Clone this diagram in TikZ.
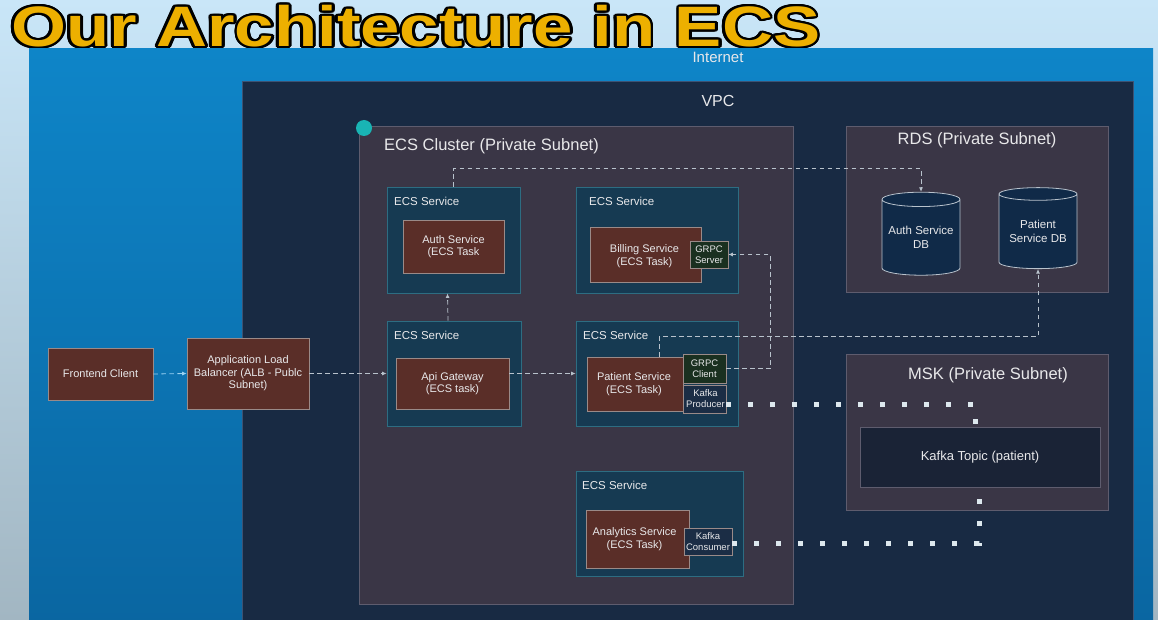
\documentclass[tikz,border=0pt]{standalone}
\usepackage{fontspec}
\setmainfont{Liberation Sans}
\usepackage{graphicx}
\usepackage{contour}
\contourlength{2.3pt}
\contournumber{20}
\usetikzlibrary{fit,shapes.geometric,arrows.meta}
\definecolor{bgtop}{HTML}{C9E6F8}
\definecolor{bgbot}{HTML}{A2B6C2}
\definecolor{nettop}{HTML}{0E85C8}
\definecolor{netbot}{HTML}{0A65A0}
\definecolor{vpcfill}{HTML}{182A43}
\definecolor{vpcline}{HTML}{3D5273}
\definecolor{clfill}{HTML}{3A3646}
\definecolor{clline}{HTML}{5E5C6E}
\definecolor{svcfill}{HTML}{163A52}
\definecolor{svcline}{HTML}{2D6D82}
\definecolor{taskfill}{HTML}{5A2E28}
\definecolor{taskline}{HTML}{9A8A88}
\definecolor{grpcfill}{HTML}{1A3020}
\definecolor{kafkafill}{HTML}{1B2D45}
\definecolor{topicfill}{HTML}{1A2336}
\definecolor{dbfill}{HTML}{102A48}
\definecolor{txt}{HTML}{E8E8EA}
\definecolor{dash}{HTML}{B8C2CC}
\definecolor{dashblue}{HTML}{9AD2F2}
\definecolor{dots}{HTML}{DDE8EE}
\definecolor{teal}{HTML}{19B4B4}
\definecolor{gold}{HTML}{EDB000}
\tikzset{
  area/.style={draw=clline, fill=clfill, line width=0.8pt, inner sep=0pt},
  svc/.style={draw=svcline, fill=svcfill, line width=0.8pt, inner sep=0pt},
  task/.style={draw=taskline, fill=taskfill, line width=0.6pt, inner sep=0pt, text=txt, align=center, font=\fontsize{11}{12.5}\selectfont},
  tag/.style={draw=taskline, line width=0.5pt, inner sep=0pt, text=txt, align=center, font=\fontsize{9.5}{11}\selectfont},
  lbl/.style={text=txt, inner sep=0pt},
  svclbl/.style={lbl, anchor=west, font=\fontsize{11.5}{13}\selectfont},
  biglbl/.style={lbl, font=\fontsize{16.5}{18}\selectfont},
  db/.style={cylinder, shape border rotate=90, draw=dash, fill=dbfill, line width=0.8pt, aspect=0.22, inner sep=0pt, text=txt, align=center, font=\fontsize{11.5}{13.5}\selectfont},
  dashline/.style={draw=dash, line width=0.8pt, dash pattern=on 4.5pt off 3.5pt, -{Latex[length=4.5pt,width=4pt]}},
  dotline/.style={draw=dots, line width=5pt, dash pattern=on 5pt off 17pt},
}
\begin{document}
\begin{tikzpicture}[x=1pt,y=-1pt]
\useasboundingbox (0,0) rectangle (1158,620);
\clip (0,0) rectangle (1158,620);
\shade[top color=bgtop, bottom color=bgbot] (0,0) rectangle (1158,620);
% title
\node[anchor=base west, inner sep=0pt, text=gold, font=\fontsize{57}{57}\selectfont\bfseries] (title) at (11,46.5) {\scalebox{1.24}[1]{\contour{black}{Our Architecture in ECS}}};
% internet
\shade[top color=nettop, bottom color=netbot] (29,49) rectangle (1153,640);
\node[lbl, font=\fontsize{15}{17}\selectfont] (internet) at (718,57) {Internet};
% vpc
\node[draw=vpcline, fill=vpcfill, line width=0.8pt, inner sep=0pt, fit={(242,81)(1133,640)}] (vpc) {};
\node[biglbl, font=\fontsize{16}{18}\selectfont] (vpclbl) at (718,101) {VPC};
% ECS cluster
\node[area, fit={(359,126)(793,604)}] (cluster) {};
\node[biglbl, anchor=west] (clusterlbl) at (384,146) {ECS Cluster (Private Subnet)};
\node[circle, fill=teal, minimum size=16pt, inner sep=0pt] (dot) at (364,128) {};
% RDS
\node[area, fit={(846,126)(1108,292)}] (rds) {};
\node[biglbl] (rdslbl) at (977,140) {RDS (Private Subnet)};
\node[db, minimum width=78pt, minimum height=83pt] (authdb) at (921,237.5) {Auth Service\\DB};
\node[db, minimum width=78pt, minimum height=81pt] (ptdb) at (1038,231.5) {Patient\\Service DB};
% MSK
\node[area, fit={(846,354)(1108,510)}] (msk) {};
\node[biglbl] (msklbl) at (988,375) {MSK (Private Subnet)};
\node[draw=clline, fill=topicfill, line width=0.8pt, inner sep=0pt, fit={(860,427)(1100,487)}] (topic) {};
\node[lbl, font=\fontsize{13}{15}\selectfont] (topiclbl) at (topic.center) {Kafka Topic (patient)};
% frontend + ALB
\node[task, fit={(48,348)(153,400)}] (fe) {};
\node[lbl, font=\fontsize{11}{12.5}\selectfont] (fetxt) at (fe.center) {Frontend Client};
\node[task, fit={(187,338)(309,409)}] (alb) {};
\node[lbl, align=center, font=\fontsize{11}{12.5}\selectfont] (albtxt) at (alb.center) {Application Load\\Balancer (ALB - Publc\\Subnet)};
% services
\node[svc, fit={(387,187)(520,293)}] (authsvc) {};
\node[svclbl] (authsvclbl) at (394,201) {ECS Service};
\node[task, fit={(403,220)(504,273)}] (authtask) {};
\node[lbl, align=center, font=\fontsize{11}{12.5}\selectfont] (authtxt) at (authtask.center) {Auth Service\\(ECS Task};

\node[svc, fit={(576,187)(738,293)}] (billsvc) {};
\node[svclbl] (billsvclbl) at (589,201) {ECS Service};
\node[task, fit={(590,227)(701,282)}] (billtask) {};
\node[lbl, align=center, font=\fontsize{11}{12.5}\selectfont] (billtxt) at ([xshift=-1pt,yshift=-1.5pt]billtask.center) {Billing Service\\(ECS Task)};
\node[tag, fill=grpcfill, fit={(690,241)(728,268)}] (grpcs) {};
\node[lbl, align=center, font=\fontsize{9.5}{11}\selectfont] (grpcstxt) at (grpcs.center) {GRPC\\Server};

\node[svc, fit={(387,321)(521,426)}] (apisvc) {};
\node[svclbl] (apisvclbl) at (394,335) {ECS Service};
\node[task, fit={(396,358)(509,409)}] (apitask) {};
\node[lbl, align=center, font=\fontsize{11}{12.5}\selectfont] (apitxt) at (apitask.center) {Api Gateway\\(ECS task)};

\node[svc, fit={(576,321)(738,426)}] (ptsvc) {};
\node[svclbl] (ptsvclbl) at (583,335) {ECS Service};
\node[task, fit={(587,357)(683,411)}] (pttask) {};
\node[lbl, align=center, font=\fontsize{11}{12.5}\selectfont] (pttxt) at ([xshift=-1pt]pttask.center) {Patient Service\\(ECS Task)};
\node[tag, fill=grpcfill, fit={(683,354)(726,383)}] (grpcc) {};
\node[lbl, align=center, font=\fontsize{9.5}{11}\selectfont] (grpcctxt) at (grpcc.center) {GRPC\\Client};
\node[tag, fill=kafkafill, fit={(683,385)(726,413)}] (kprod) {};
\node[lbl, align=center, font=\fontsize{9.5}{11}\selectfont] (kprodtxt) at ([xshift=1pt]kprod.center) {Kafka\\Producer};

\node[svc, fit={(576,471)(743,576)}] (ansvc) {};
\node[svclbl] (ansvclbl) at (582,485) {ECS Service};
\node[task, fit={(586,510)(689,568)}] (antask) {};
\node[lbl, align=center, font=\fontsize{11}{12.5}\selectfont] (antxt) at ([xshift=-3pt]antask.center) {Analytics Service\\(ECS Task)};
\node[tag, fill=kafkafill, fit={(684,528)(732,555)}] (kcons) {};
\node[lbl, align=center, font=\fontsize{9.5}{11}\selectfont] (kconstxt) at (kcons.center) {Kafka\\Consumer};

% connectors
\draw[dashline, draw=dashblue] (fe.east) -- (alb.west);
\draw[dashline] (alb.east) -- (apisvc.west);
\draw[dashline] (apisvc.west -| apitask.east) -- (ptsvc.west);
\draw[dashline] ([xshift=-6pt]apisvc.north) -- ([xshift=-6pt]authsvc.south);
\draw[dashline] (authsvc.north) -- ++(0,-18) -| (authdb.north);
\draw[dashline] (grpcc.east) -- ++(44,0) |- (grpcs.east);
\draw[dashline] ([xshift=-24pt]pttask.north east) -- ++(0,-20) -| (ptdb.south);
\draw[dotline] ([yshift=-5pt]kprod.east) -| ([xshift=-5pt]topic.north);
\draw[dotline] ([yshift=-1.5pt]kcons.east) -| ([xshift=-1pt]topic.south);
\end{tikzpicture}
\end{document}
